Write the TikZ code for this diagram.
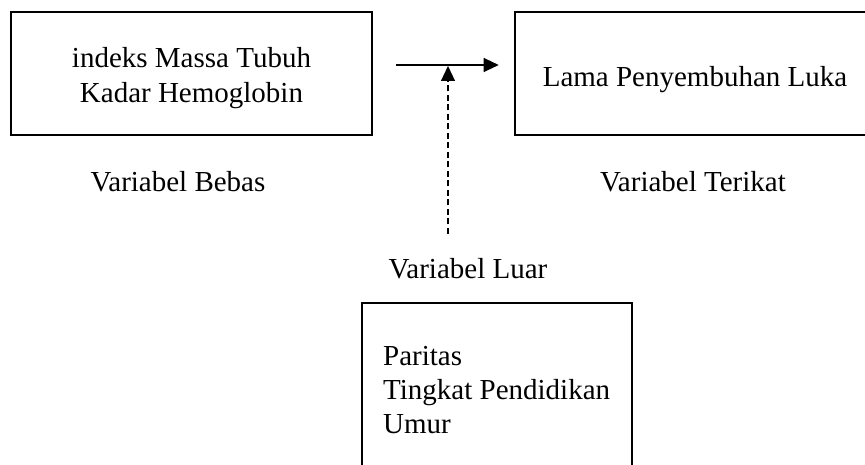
\documentclass[tikz,border=0pt]{standalone}
\usepackage{fontspec}
\setmainfont{Liberation Serif}
\usepackage{tikz}
\usetikzlibrary{arrows.meta}

\tikzset{
  kotak/.style={draw, line width=2.6pt, minimum width=#1, minimum height=123pt, inner sep=0pt},
  teks/.style={inner sep=0pt, font=\fontsize{29}{34.5}\selectfont},
  panah/.style={line width=1.1pt, -{Triangle[length=15pt,width=14pt]}}
}

\begin{document}
\begin{tikzpicture}[x=1pt,y=-1pt]
\useasboundingbox (0,0) rectangle (865,465);
\clip (0,0) rectangle (865,465);

\node[kotak=361pt] (bebas) at (191.5,73.5) {};
\node[kotak=370pt] (terikat) at (700,73.5) {};
\node[kotak=270pt, minimum height=190pt] (luar) at (497,398) {};

\node[teks, align=center] (bebasisi) at (191.5,78) {indeks Massa Tubuh\\Kadar Hemoglobin};
\node[teks, anchor=base] (terikatisi) at (695,87) {Lama Penyembuhan Luka};
\node[teks, anchor=base west] (paritas) at (383,365) {Paritas};
\node[teks, anchor=base west] (pendidikan) at (383,399) {Tingkat Pendidikan};
\node[teks, anchor=base west] (umur) at (383,433) {Umur};

\node[teks, anchor=base] (lblbebas) at (178,192) {Variabel Bebas};
\node[teks, anchor=base] (lblterikat) at (693,192) {Variabel Terikat};
\node[teks, anchor=base] (lblluar) at (468,278) {Variabel Luar};

\coordinate (luarbawah) at (448,234);
\coordinate (temu) at (448,66);

\draw[panah, shorten <=23pt, shorten >=15pt] ([yshift=8.5pt]bebas.east) -- ([yshift=8.5pt]terikat.west);
\draw[panah, dash pattern=on 6pt off 3.5pt] (luarbawah) -- (temu);
\end{tikzpicture}
\end{document}
